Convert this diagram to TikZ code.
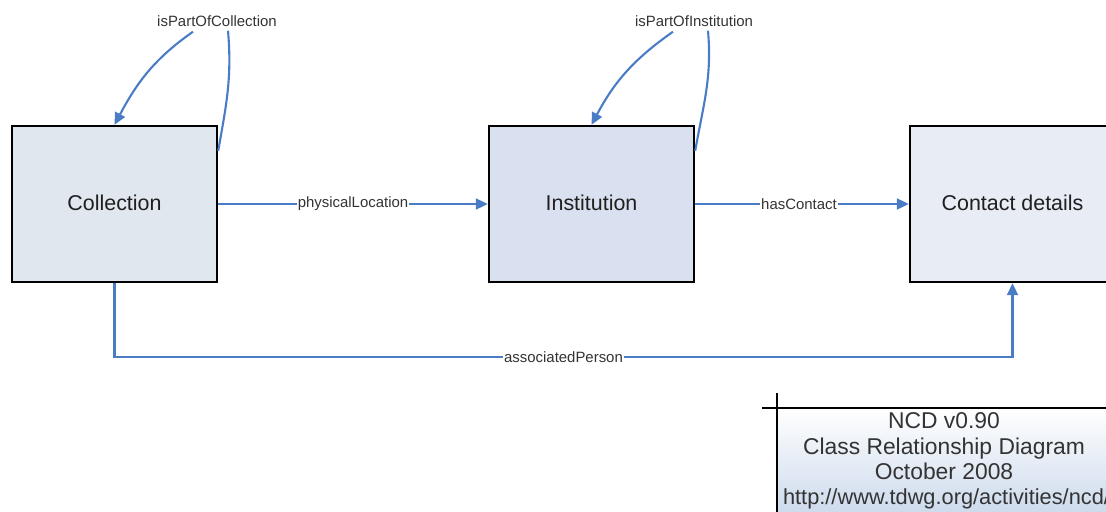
\documentclass[tikz,border=0pt]{standalone}
\usepackage{fontspec}
\setmainfont{Liberation Sans}
\usetikzlibrary{arrows.meta,calc,shadows}
\definecolor{linkblue}{HTML}{4A7CC6}
\definecolor{colfill}{HTML}{E0E7EF}
\definecolor{instfill}{HTML}{D9E0EF}
\definecolor{contfill}{HTML}{E8ECF5}
\definecolor{lbltext}{HTML}{333333}
\definecolor{titlebot}{HTML}{CCDAEC}
\tikzset{
  classbox/.style={draw=black, line width=1.4pt, minimum width=4.1cm, minimum height=3.12cm,
    font=\fontsize{12.2}{14}\selectfont, text=black!88,
    drop shadow={shadow xshift=0.03cm, shadow yshift=-0.03cm, fill=black, opacity=0.3}},
  link/.style={draw=linkblue, line width=1.2pt},
  tip/.style={-{Triangle[length=0.24cm,width=0.22cm]}},
  lbl/.style={fill=white, inner sep=0.5pt, font=\fontsize{8.5}{10}\selectfont, text=lbltext},
  toplbl/.style={inner sep=0.5pt, font=\fontsize{8.5}{10}\selectfont, text=lbltext},
  frame/.style={draw=black, line width=1.1pt}
}
\begin{document}
\begin{tikzpicture}[x=0.02cm, y=0.02cm]
\useasboundingbox (0,0) rectangle (1106,-511);
\clip (0,0) rectangle (1106,-511);

% classes
\node[classbox, fill=colfill]  (col)  at (114.5,-204)  {\raisebox{2pt}{Collection}};
\node[classbox, fill=instfill] (inst) at (591.5,-204)  {\raisebox{2pt}{Institution}};
\node[classbox, fill=contfill] (con)  at (1012.5,-204) {\raisebox{2pt}{Contact details}};

% straight relations
\draw[link, tip] (col.east) -- node[lbl]{physicalLocation} (inst.west);
\draw[link, tip] (inst.east) -- node[lbl, xshift=-0.06cm]{hasContact} (con.west);
\draw[link, tip] (col.south) -- ++(0,-74) -| node[lbl, pos=0.25]{associatedPerson} (con.south);

% self relation on Collection
\node[toplbl] (l1) at (217,-21) {isPartOfCollection};
\coordinate (c1a) at ($(col.north east)+(0,-26)$);
\coordinate (c1b) at ($(l1.south)+(11,-3)$);
\coordinate (c1c) at ($(l1.south)+(-24,-4)$);
\draw[link] (c1a) to[out=80, in=-85] (c1b);
\draw[link, tip] (c1c) to[out=-145, in=62] (col.north);

% self relation on Institution
\node[toplbl] (l2) at (694,-21) {isPartOfInstitution};
\coordinate (c2a) at ($(inst.north east)+(0,-26)$);
\coordinate (c2b) at ($(l2.south)+(14,-3)$);
\coordinate (c2c) at ($(l2.south)+(-21,-4)$);
\draw[link] (c2a) to[out=80, in=-85] (c2b);
\draw[link, tip] (c2c) to[out=-145, in=62] (inst.north);

% title block
\shade[top color=white, bottom color=titlebot] (777,-408) rectangle (1115,-515);
\draw[frame] (762,-408) -- (1110,-408);
\draw[frame] (777,-393) -- (777,-515);
\node[align=center, font=\fontsize{13}{14.35}\selectfont, text=black!80, inner sep=0pt]
  (title) at (944,-461)
  {NCD v0.90\\Class Relationship Diagram\\October 2008\\\hspace*{0.1cm}{\fontsize{12.4}{14.35}\selectfont http://www.tdwg.org/activities/ncd/}};
\end{tikzpicture}
\end{document}
